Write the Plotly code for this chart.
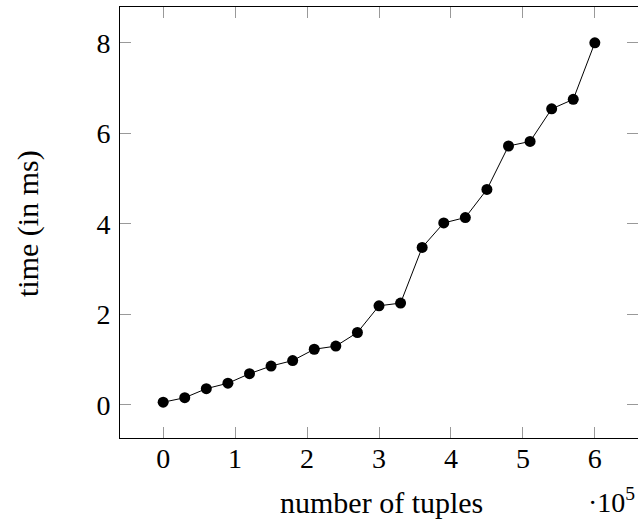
import plotly.graph_objects as go

# data: number of tuples (x 1e5) and time in ms
tuples = [0, 30000, 60000, 90000, 120000, 150000, 180000, 210000, 240000, 270000,
          300000, 330000, 360000, 390000, 420000, 450000, 480000, 510000, 540000,
          570000, 600000]
time_ms = [0.06, 0.16, 0.36, 0.48, 0.69, 0.86, 0.98, 1.23, 1.30, 1.60,
           2.19, 2.25, 3.48, 4.02, 4.14, 4.76, 5.72, 5.82, 6.54, 6.75, 8.00]

x_tickvals = [0, 100000, 200000, 300000, 400000, 500000, 600000]
x_ticktext = ["0", "1", "2", "3", "4", "5", "6"]
y_tickvals = [0, 2, 4, 6, 8]
y_ticktext = ["0", "2", "4", "6", "8"]

FONT = "Liberation Serif"
FS = 28
TFS = 30

L, R, T, B = 120, 0, 7, 82
W, H = 638, 520
pw, ph = W - L - R, H - T - B

fig = go.Figure()
fig.add_trace(go.Scatter(
    x=tuples, y=time_ms, mode="lines+markers",
    line=dict(color="black", width=1),
    marker=dict(color="black", size=11, line=dict(width=0)),
    showlegend=False, hoverinfo="x+y",
))

axis_common = dict(
    showgrid=False, zeroline=False,
    showline=True, linecolor="black", linewidth=1, mirror="allticks",
    ticks="inside", ticklen=11, tickwidth=1, tickcolor="#999999",
    tickfont=dict(family=FONT, size=FS, color="black"),
)

fig.update_layout(
    width=W, height=H,
    margin=dict(l=L, r=R, t=T, b=B, pad=0),
    paper_bgcolor="white", plot_bgcolor="white",
    font=dict(family=FONT, size=FS, color="black"),
    xaxis=dict(range=[-60000, 660000], tickvals=x_tickvals, ticktext=x_ticktext,
               ticklabelstandoff=-5, **axis_common),
    yaxis=dict(range=[-0.73, 8.79], tickvals=y_tickvals, ticktext=y_ticktext,
               ticklabelstandoff=3, **axis_common),
    annotations=[
        dict(text="time (in ms)", textangle=-90, xref="paper", yref="paper",
             x=(28 - L) / pw, y=(T + ph - 224) / ph, xanchor="center", yanchor="middle",
             showarrow=False, font=dict(family=FONT, size=TFS, color="black")),
        dict(text="number of tuples", xref="paper", yref="paper",
             x=(381 - L) / pw, y=(T + ph - 502) / ph, xanchor="center", yanchor="middle",
             showarrow=False, font=dict(family=FONT, size=TFS, color="black")),
        dict(text="·10<sup>5</sup>", xref="paper", yref="paper",
             x=(611 - L) / pw, y=(T + ph - 500) / ph, xanchor="center", yanchor="middle",
             showarrow=False, font=dict(family=FONT, size=FS, color="black")),
    ],
)

fig.write_html("out.html")
